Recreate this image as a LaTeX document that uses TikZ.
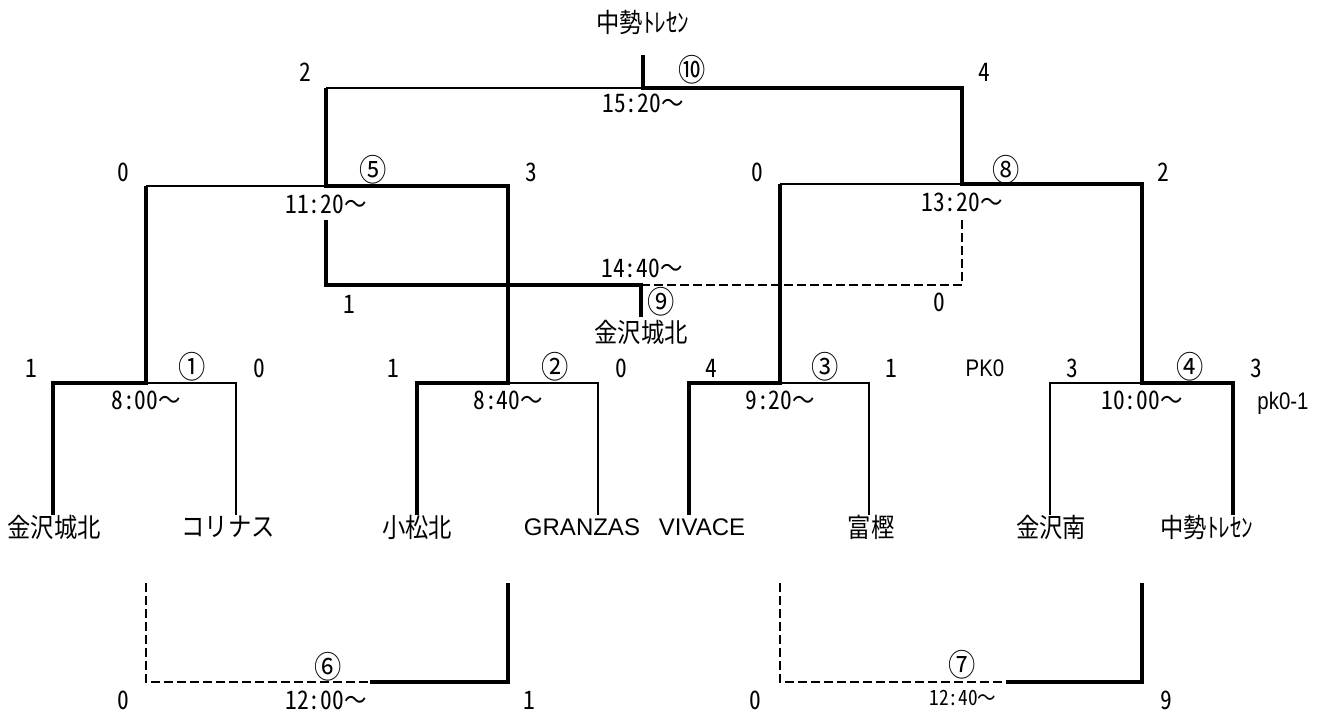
\documentclass[tikz,border=0pt]{standalone}
\usepackage{fontspec}
\newfontfamily\jpfont[FakeStretch=0.88]{Noto Sans CJK JP}
\newfontfamily\numfont[FakeStretch=0.92,CharacterWidth=Half]{Noto Sans CJK JP}
\newfontfamily\latfont{Liberation Sans}
\newfontfamily\latnfont[FakeStretch=0.85]{Liberation Sans}
\newcommand{\wv}{{\jpfont ～}}
\begin{document}
\begin{tikzpicture}[x=1pt,y=-1pt,
  win/.style={line width=3.6pt, line join=miter},
  lose/.style={line width=1.9pt, line join=miter},
  lost/.style={line width=1.9pt, dash pattern=on 9pt off 4pt},
  sc/.style={font=\numfont\fontsize{25.5}{25.5}\selectfont, inner sep=0pt},
  tm/.style={font=\numfont\fontsize{25.5}{25.5}\selectfont, inner sep=0pt},
  tms/.style={font=\numfont\fontsize{21}{21}\selectfont, inner sep=0pt},
  cn/.style={font=\jpfont\fontsize{31}{31}\selectfont, inner sep=0pt},
  team/.style={font=\jpfont\fontsize{26.5}{26.5}\selectfont, inner sep=0pt},
  teamlat/.style={font=\latfont\fontsize{24}{24}\selectfont, inner sep=0pt},
  note/.style={font=\latnfont\fontsize{24}{24}\selectfont, inner sep=0pt}]
\fill[white] (0,0) rectangle (1336,714);
\path[use as bounding box] (0,0) rectangle (1336,714);
% ---- coordinates ----
% round 1
\coordinate (a1L) at (53,383);  \coordinate (a1M) at (146,383);  \coordinate (a1R) at (236,383);
\coordinate (a2L) at (417,383); \coordinate (a2M) at (508,383);  \coordinate (a2R) at (598,383);
\coordinate (a3L) at (689,383); \coordinate (a3M) at (780,383);  \coordinate (a3R) at (869,383);
\coordinate (a4L) at (1050,383);\coordinate (a4M) at (1142,383); \coordinate (a4R) at (1233,383);
\coordinate (e1) at (53,515);  \coordinate (e2) at (236,515);  \coordinate (e3) at (417,515);  \coordinate (e4) at (598,515);
\coordinate (e5) at (689,515); \coordinate (e6) at (869,515);  \coordinate (e7) at (1050,515); \coordinate (e8) at (1233,515);
% round 2
\coordinate (b5L) at (146,186); \coordinate (b5M) at (326,186); \coordinate (b5R) at (508,186);
\coordinate (b8L) at (780,184); \coordinate (b8M) at (962,184); \coordinate (b8R) at (1142,184);
% final
\coordinate (f10L) at (326,88); \coordinate (f10M) at (643,88); \coordinate (f10R) at (962,88);
\coordinate (f10T) at (643,55);
% third place
\coordinate (c9a) at (326,220); \coordinate (c9L) at (326,285); \coordinate (c9M) at (641,285);
\coordinate (c9B) at (641,317); \coordinate (c9R) at (962,285); \coordinate (c9b) at (962,218);
% consolation
\coordinate (d6a) at (146,583); \coordinate (d6b) at (146,682); \coordinate (d6m) at (370,682);
\coordinate (d6c) at (508,682); \coordinate (d6d) at (508,583);
\coordinate (d7a) at (780,583); \coordinate (d7b) at (780,682); \coordinate (d7m) at (1006,682);
\coordinate (d7c) at (1142,682); \coordinate (d7d) at (1142,583);
% ---- lines ----
\draw[win]  (e1) -- (a1L) -- (a1M) -- (b5L);
\draw[lose] (a1M) -- (a1R) -- (e2);
\draw[win]  (e3) -- (a2L) -- (a2M) -- (b5R) -- (b5M) -- (f10L);
\draw[lose] (a2M) -- (a2R) -- (e4);
\draw[lose] (b5L) -- (b5M);
\draw[win]  (e5) -- (a3L) -- (a3M) -- (b8L);
\draw[lose] (a3M) -- (a3R) -- (e6);
\draw[lose] (e7) -- (a4L) -- (a4M);
\draw[win]  (e8) -- (a4R) -- (a4M) -- (b8R) -- (b8M) -- (f10R) -- (f10M) -- (f10T);
\draw[lose] (b8L) -- (b8M);
\draw[lose] (f10L) -- (f10M);
\draw[win]  (c9a) -- (c9L) -- (c9M) -- (c9B);
\draw[lost] (c9M) -- (c9R) -- (c9b);
\draw[lost] (d6a) -- (d6b) -- (d6m);
\draw[win]  (d6m) -- (d6c) -- (d6d);
\draw[lost] (d7a) -- (d7b) -- (d7m);
\draw[win]  (d7m) -- (d7c) -- (d7d);
% ---- labels ----
\node[team] (ttop) at (643,22) {中勢ﾄﾚｾﾝ};
\node[sc] (s10l) at (305,72) {2};
\node[cn] (m10) at (692,70) {⑩};
\node[sc] (s10r) at (984,72) {4};
\node[tm] (t10) at (643,103) {15:20\wv};
\node[sc] (s5l) at (123,172) {0};
\node[cn] (m5) at (373,170) {⑤};
\node[sc] (s5r) at (531,172) {3};
\node[tm] (t5) at (326,204) {11:20\wv};
\node[sc] (s8l) at (757,172) {0};
\node[cn] (m8) at (1006,170) {⑧};
\node[sc] (s8r) at (1163,172) {2};
\node[tm] (t8) at (962,202) {13:20\wv};
\node[tm] (t9) at (642,268) {14:40\wv};
\node[sc] (s9l) at (349,304) {1};
\node[cn] (m9) at (661,302) {⑨};
\node[sc] (s9r) at (939,302) {0};
\node[team] (w9) at (641,332) {金沢城北};
\node[sc] (s1l) at (31,368) {1};
\node[cn] (m1) at (192,367) {①};
\node[sc] (s1r) at (259,368) {0};
\node[tm] (t1) at (146,400) {8:00\wv};
\node[sc] (s2l) at (393,368) {1};
\node[cn] (m2) at (555,367) {②};
\node[sc] (s2r) at (621,368) {0};
\node[tm] (t2) at (508,400) {8:40\wv};
\node[sc] (s3l) at (711,368) {4};
\node[cn] (m3) at (825,367) {③};
\node[sc] (s3r) at (891,368) {1};
\node[tm] (t3) at (780,400) {9:20\wv};
\node[note] (pk) at (985,368) {PK0};
\node[sc] (s4l) at (1072,368) {3};
\node[cn] (m4) at (1190,367) {④};
\node[sc] (s4r) at (1256,368) {3};
\node[tm] (t4) at (1142,400) {10:00\wv};
\node[note] (pk2) at (1283,403) {pk0-1};
\node[team] (n1) at (54,527) {金沢城北};
\node[team] (n2) at (228,527) {コリナス};
\node[team] (n3) at (417,527) {小松北};
\node[teamlat] (n4) at (582,527) {GRANZAS};
\node[teamlat] (n5) at (702,527) {VIVACE};
\node[team] (n6) at (871,527) {富樫};
\node[team] (n7) at (1051,527) {金沢南};
\node[team] (n8) at (1207,527) {中勢ﾄﾚｾﾝ};
\node[sc] (s6l) at (123,700) {0};
\node[cn] (m6) at (328,667) {⑥};
\node[tm] (t6) at (326,700) {12:00\wv};
\node[sc] (s6r) at (529,700) {1};
\node[sc] (s7l) at (755,700) {0};
\node[cn] (m7) at (962,665) {⑦};
\node[tms] (t7) at (963,698) {12:40{\jpfont\fontsize{21}{21}\selectfont ～}};
\node[sc] (s7r) at (1166,700) {9};
\end{tikzpicture}
\end{document}
